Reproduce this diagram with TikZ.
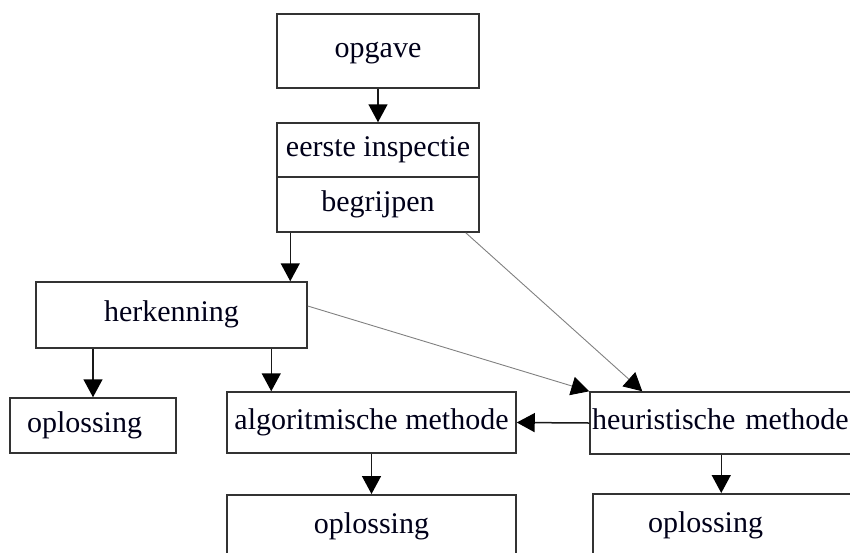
\documentclass[tikz,border=0pt]{standalone}
\usepackage{fontspec}
\setmainfont{Liberation Serif}
\usetikzlibrary{arrows.meta}
\begin{document}
\begin{tikzpicture}[x=1pt,y=-1pt,
  box/.style={draw=black!80, line width=1.5pt, fill=white, inner sep=0pt,
    font=\fontsize{30}{36}\selectfont, text=black!90!blue, text height=21pt, text depth=8pt},
  arr/.style={line width=1.5pt, draw=black!90, -{Triangle[length=18pt,width=19pt,color=black]}},
  diag/.style={line width=0.9pt, draw=black!50, -{Triangle[length=18pt,width=19pt,color=black]}}]
\useasboundingbox (0,0) rectangle (850,552);
\clip (0,0) rectangle (850,552);
\node[box, minimum width=202pt, minimum height=74pt] (opg) at (378,51) {opgave};
\node[box, minimum width=202pt, minimum height=54pt] (insp) at (378,150) {eerste inspectie};
\node[box, minimum width=202pt, minimum height=55pt] (begr) at (378,204.5) {begrijpen};
\node[box, minimum width=271pt, minimum height=66pt] (herk) at (171.5,315) {herkenning};
\node[box, minimum height=55pt, text width=132pt, inner xsep=17pt, align=left] (opl1) at (93,425.5) {oplossing};
\node[box, minimum width=289pt, minimum height=61pt] (algo) at (371.5,422.5) {algoritmische methode};
\node[box, minimum height=62pt, text width=285pt, inner xsep=2pt, align=left] (heur) at (734.5,423) {heuristische methode};
\node[box, minimum width=289pt, anchor=north, text height=39pt, text depth=43pt] (opl2) at (371.5,494) {oplossing};
\node[box, text width=177pt, inner xsep=55pt, align=left, anchor=north, text height=39pt, text depth=43pt] (opl3) at (736.5,493) {oplossing};
\draw[arr] (opg.south) -- (insp.north);
\draw[arr] ([xshift=14pt]begr.south west) -- ([xshift=14pt]begr.south west |- herk.north);
\draw[arr] (opl1.north |- herk.south) -- (opl1.north);
\draw[arr] ([xshift=45pt]algo.north west |- herk.south) -- ([xshift=45pt]algo.north west);
\draw[arr] (algo.south) -- (opl2.north);
\draw[arr] ([xshift=132pt]heur.south west) -- ([xshift=132pt]heur.south west |- opl3.north);
\draw[arr] (heur.west) -- (algo.east);
\draw[diag] ([xshift=-14pt]begr.south east) -- ([xshift=53pt]heur.north west);
\draw[diag] ([yshift=9pt]herk.east) -- (heur.north west);
\end{tikzpicture}
\end{document}
